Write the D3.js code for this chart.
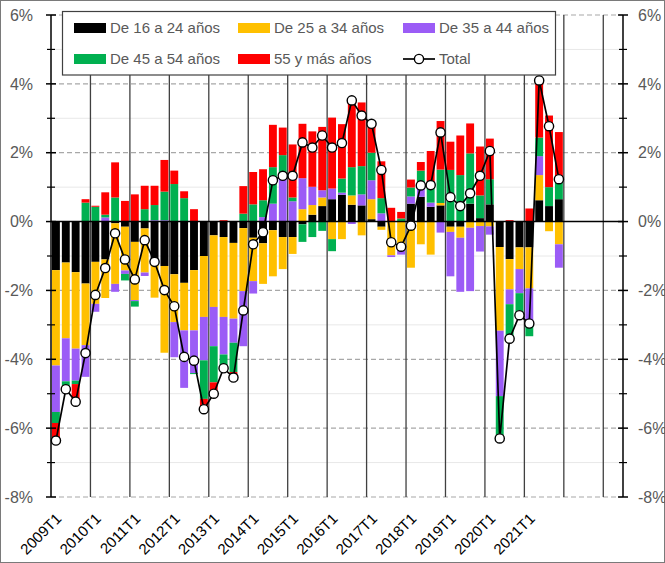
<!DOCTYPE html>
<html><head><meta charset="utf-8">
<script src="https://cdn.jsdelivr.net/npm/d3@7"></script>
<style>body{margin:0;background:#fff} svg{display:block}</style>
</head><body>
<svg id="c" width="665" height="563"></svg>
<script>
// ---------- DATA ----------
const quarters = [
 "2009T1","2009T2","2009T3","2009T4","2010T1","2010T2","2010T3","2010T4",
 "2011T1","2011T2","2011T3","2011T4","2012T1","2012T2","2012T3","2012T4",
 "2013T1","2013T2","2013T3","2013T4","2014T1","2014T2","2014T3","2014T4",
 "2015T1","2015T2","2015T3","2015T4","2016T1","2016T2","2016T3","2016T4",
 "2017T1","2017T2","2017T3","2017T4","2018T1","2018T2","2018T3","2018T4",
 "2019T1","2019T2","2019T3","2019T4","2020T1","2020T2","2020T3","2020T4",
 "2021T1","2021T2","2021T3","2021T4",
 "2022T1","2022T2","2022T3","2022T4","2023T1","2023T2"
];
const xTickLabels = ["2009T1","2010T1","2011T1","2012T1","2013T1","2014T1","2015T1",
 "2016T1","2017T1","2018T1","2019T1","2020T1","2021T1"];
const yearStarts = ["2010T1","2011T1","2012T1","2013T1","2014T1","2015T1","2016T1",
 "2017T1","2018T1","2019T1","2020T1","2021T1","2022T1","2023T1"];
const yMajorTicks = [6,4,2,0,-2,-4,-6,-8];
const yMinorTicks = [5,3,1,-1,-3,-5,-7];
const yTickLabels = ["6%","4%","2%","0%","-2%","-4%","-6%","-8%"];

const seriesNames = ["De 16 a 24 años","De 25 a 34 años","De 35 a 44 años","De 45 a 54 años","55 y más años"];
const seriesColors = ["#000000","#FFC000","#9B5CF6","#00B050","#FF0000"];

const age16_24 = [-1.41,-1.19,-1.47,-1.80,-1.17,-1.10,-0.05,-0.15,-0.59,-0.20,-1.15,-1.29,-1.53,-1.78,-1.41,-1.00,
 -0.40,-0.45,-0.62,-0.19,-0.47,-0.63,-0.25,-0.45,-0.45,-0.08,0.20,0.45,0.65,0.78,0.49,0.47,
 0.07,-0.15,0.00,0.00,0.52,0.72,0.43,0.47,-0.15,-0.15,0.52,0.10,0.50,-0.74,-1.09,-0.75,-0.75,0.62,0.45,0.65];
const age25_34 = [-2.77,-2.20,-2.22,-1.79,-1.22,-1.12,-1.76,-1.27,-1.69,-1.28,-1.06,-2.52,-1.39,-1.38,-1.75,-1.77,
 -2.08,-2.32,-2.20,-1.83,-1.26,-1.18,-1.34,-0.93,-0.49,0.36,0.28,0.25,-0.51,-0.51,0.27,-0.40,
 0.58,-0.09,-0.98,-0.83,-1.34,-0.66,-0.96,0.07,-0.15,-0.32,-0.18,-0.13,-0.14,-2.43,-0.88,-0.63,-1.19,0.73,-0.28,-0.66];
const age35_44 = [-1.35,-1.25,-0.93,-0.92,-0.23,0.12,-0.23,-0.10,-0.03,-0.10,0.04,0.04,-1.02,-1.67,-1.24,-1.26,
 -1.14,-1.09,-0.70,-1.60,-0.36,0.13,0.52,1.25,0.59,0.90,0.53,0.21,0.31,0.06,-0.07,0.32,
 0.55,0.24,-0.05,-0.13,0.21,0.28,0.12,-0.32,-1.29,-1.57,-1.84,-0.74,-0.24,-1.90,-0.43,-0.70,-1.02,0.55,0.00,-0.68];
const age45_54 = [-0.32,-0.13,-0.10,0.55,0.43,0.08,0.70,-0.19,-0.16,0.36,0.44,0.83,1.09,0.68,-0.03,-1.12,
 -1.05,-0.42,-0.85,0.23,0.50,0.49,1.06,0.68,0.11,-0.51,-0.45,-0.27,-0.35,0.41,0.82,0.82,
 0.80,0.44,0.00,0.09,0.26,0.48,0.46,0.97,1.50,1.35,1.46,0.66,0.73,-1.16,-1.02,-0.57,-0.37,0.54,0.55,0.50];
const age55plus = [-0.48,-0.10,-0.50,0.10,0.03,0.65,1.02,0.60,0.79,0.68,0.56,0.92,0.39,0.20,0.36,-0.25,
 -0.24,0.04,-0.10,0.80,0.94,0.90,1.23,0.80,1.54,1.58,1.61,1.84,2.06,1.58,1.95,1.85,
 0.88,1.07,0.40,0.19,0.23,0.25,1.04,1.41,0.82,1.15,0.87,1.42,1.18,-0.05,0.04,0.00,0.38,1.66,2.08,1.45];
const total = [-6.36,-4.87,-5.23,-3.82,-2.13,-1.35,-0.34,-1.10,-1.68,-0.54,-1.17,-1.99,-2.46,-3.93,-4.04,-5.45,
 -5.00,-4.26,-4.53,-2.58,-0.66,-0.31,1.20,1.33,1.33,2.30,2.15,2.50,2.15,2.28,3.52,3.08,
 2.84,1.50,-0.60,-0.73,-0.12,1.05,1.06,2.59,0.71,0.45,0.82,1.33,2.05,-6.30,-3.40,-2.72,-2.96,4.10,2.77,1.23];

// ---------- CHART ----------
const svg = d3.select("#c");
const FONT = "'Liberation Sans', Arial, sans-serif";
const L = 51, R = 623, T = 15, B = 497;

const x = d3.scaleBand().domain(quarters).range([L, R]).paddingInner(0.2).paddingOuter(0.1);
const y = d3.scaleLinear().domain([-8, 6]).range([B, T]);
const bw = x.bandwidth();
const step = x.step();

// outer border
svg.append("rect").attr("x",0.5).attr("y",0.5).attr("width",664).attr("height",562)
  .attr("fill","#fff").attr("stroke","#7a7a7a").attr("stroke-width",1);

// minor gridlines
svg.append("g").selectAll("line").data(yMinorTicks).join("line")
  .attr("x1",L).attr("x2",R).attr("y1",d=>y(d)).attr("y2",d=>y(d))
  .attr("stroke","#e8e8e8").attr("stroke-width",1);
// major dashed gridlines
svg.append("g").selectAll("line").data(yMajorTicks.filter(d=>d!==0)).join("line")
  .attr("x1",L).attr("x2",R).attr("y1",d=>y(d)).attr("y2",d=>y(d))
  .attr("stroke","#a8a8a8").attr("stroke-width",1.2).attr("stroke-dasharray","5,3");

// vertical year separators
svg.append("g").selectAll("line").data(yearStarts).join("line")
  .attr("x1",d=>x(d)-step*0.1).attr("x2",d=>x(d)-step*0.1)
  .attr("y1",y(6)).attr("y2",y(-8))
  .attr("stroke","#404040").attr("stroke-width",1.3);

// stacked bars
const n = total.length;
const seriesArrays = [age16_24, age25_34, age35_44, age45_54, age55plus];
const rows = quarters.slice(0, n).map((q, i) => {
  const r = {q};
  seriesNames.forEach((s, k) => r[s] = seriesArrays[k][i]);
  return r;
});
const stacked = d3.stack().keys(seriesNames).offset(d3.stackOffsetDiverging)(rows);
svg.append("g").selectAll("g").data(stacked).join("g")
  .attr("fill",(d,k)=>seriesColors[k])
  .selectAll("rect").data(d=>d).join("rect")
  .attr("x",d=>x(d.data.q)).attr("width",bw)
  .attr("y",d=>y(Math.max(d[0],d[1])))
  .attr("height",d=>Math.abs(y(d[0])-y(d[1])));

// zero line
svg.append("line").attr("x1",L).attr("x2",R).attr("y1",y(0)).attr("y2",y(0))
  .attr("stroke","#000").attr("stroke-width",1.5);

// axes (left and right)
[L, R].forEach(ax => {
  const g = svg.append("g");
  g.append("line").attr("x1",ax).attr("x2",ax).attr("y1",y(6)).attr("y2",y(-8))
    .attr("stroke","#000").attr("stroke-width",1.5);
  g.selectAll(".mj").data(yMajorTicks).join("line")
    .attr("x1",ax-5).attr("x2",ax+5).attr("y1",d=>y(d)).attr("y2",d=>y(d))
    .attr("stroke","#000").attr("stroke-width",1.5);
  g.selectAll(".mn").data(yMinorTicks).join("line")
    .attr("x1",ax-4).attr("x2",ax+4).attr("y1",d=>y(d)).attr("y2",d=>y(d))
    .attr("stroke","#000").attr("stroke-width",1.2);
});

// y tick labels
svg.append("g").selectAll("text").data(yMajorTicks).join("text")
  .attr("x",33).attr("y",d=>y(d)).attr("dy","0.36em").attr("text-anchor","end")
  .attr("font-family",FONT).attr("font-size",16).attr("fill","#595959")
  .text((d,i)=>yTickLabels[i]);
svg.append("g").selectAll("text").data(yMajorTicks).join("text")
  .attr("x",638).attr("y",d=>y(d)).attr("dy","0.36em").attr("text-anchor","start")
  .attr("font-family",FONT).attr("font-size",16).attr("fill","#595959")
  .text((d,i)=>yTickLabels[i]);

// x tick labels
svg.append("g").selectAll("text").data(xTickLabels).join("text")
  .attr("transform",d=>`translate(${x(d)+bw/2-1},512) rotate(-45)`)
  .attr("text-anchor","end").attr("dy","0.71em")
  .attr("font-family",FONT).attr("font-size",15).attr("fill","#000")
  .text(d=>d);

// total line
const line = d3.line().x((d,i)=>x(quarters[i])+bw/2).y(d=>y(d));
svg.append("path").datum(total).attr("d",line)
  .attr("fill","none").attr("stroke","#000").attr("stroke-width",1.7);
svg.append("g").selectAll("circle").data(total).join("circle")
  .attr("cx",(d,i)=>x(quarters[i])+bw/2).attr("cy",d=>y(d)).attr("r",4.6)
  .attr("fill","#fff").attr("stroke","#000").attr("stroke-width",1.4);

// legend
const lg = svg.append("g");
lg.append("rect").attr("x",62.5).attr("y",11.5).attr("width",493).attr("height",63.5)
  .attr("fill","#fff").attr("stroke","#404040").attr("stroke-width",1.2);
const legItems = [
  {name:seriesNames[0], color:seriesColors[0], x:74, y:28},
  {name:seriesNames[1], color:seriesColors[1], x:238, y:28},
  {name:seriesNames[2], color:seriesColors[2], x:403, y:28},
  {name:seriesNames[3], color:seriesColors[3], x:74, y:59},
  {name:seriesNames[4], color:seriesColors[4], x:238, y:59},
  {name:"Total", color:null, x:403, y:59}
];
legItems.forEach(it => {
  if (it.color) {
    lg.append("rect").attr("x",it.x).attr("y",it.y-5).attr("width",32).attr("height",10).attr("fill",it.color);
  } else {
    lg.append("line").attr("x1",it.x).attr("x2",it.x+32).attr("y1",it.y).attr("y2",it.y)
      .attr("stroke","#000").attr("stroke-width",1.7);
    lg.append("circle").attr("cx",it.x+16).attr("cy",it.y).attr("r",4.6)
      .attr("fill","#fff").attr("stroke","#000").attr("stroke-width",1.4);
  }
  lg.append("text").attr("x",it.x+36).attr("y",it.y).attr("dy","0.36em")
    .attr("font-family",FONT).attr("font-size",15).attr("fill","#595959").text(it.name);
});
</script>
</body></html>
